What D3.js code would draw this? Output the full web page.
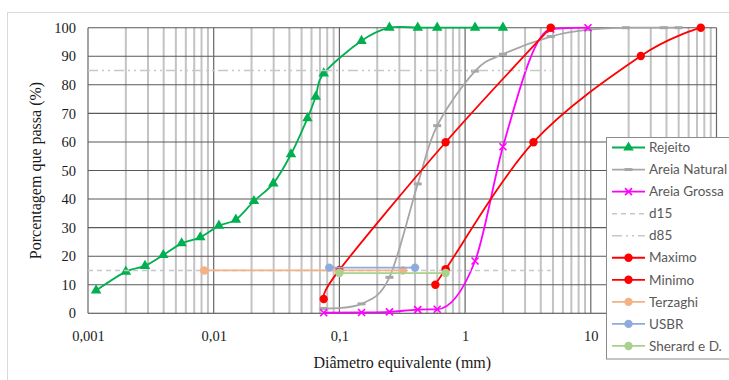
<!DOCTYPE html>
<html>
<head>
<meta charset="utf-8">
<script src="https://cdn.jsdelivr.net/npm/d3@7"></script>
<style>
body { margin: 0; background: #fff; }
svg { display: block; }
.serif { font-family: "Liberation Serif", "Times New Roman", serif; }
</style>
</head>
<body>
<div id="chart"></div>
<script>
// diameters (mm) and % passing
var rejeitoX = [0.00116, 0.0020, 0.00284, 0.00397, 0.00556, 0.00782, 0.0110, 0.0150, 0.0209, 0.0298, 0.0412, 0.0557, 0.0648, 0.075, 0.15, 0.25, 0.42, 0.6, 1.2, 2.0];
var rejeitoY = [8, 14.6, 16.6, 20.4, 24.5, 26.6, 30.7, 32.8, 39.3, 45.5, 55.7, 68.3, 75.8, 84, 95.4, 100, 100, 100, 100, 100];

var naturalX = [0.075, 0.15, 0.25, 0.42, 0.6, 1.2, 2.0, 4.8, 9.5, 19, 38, 50];
var naturalY = [1.7, 3.3, 12.6, 45.3, 65.7, 84.8, 90.7, 96.9, 99.3, 100, 100, 100];

var grossaX = [0.075, 0.15, 0.25, 0.42, 0.6, 1.2, 2.0, 4.8, 9.5];
var grossaY = [0.2, 0.3, 0.5, 1.3, 1.4, 18.3, 58.3, 99.5, 100];

var maximoX = [0.075, 0.1, 0.7, 4.8];
var maximoY = [5, 15.2, 59.9, 100];

var minimoX = [0.58, 0.7, 3.5, 25, 75];
var minimoY = [10, 15.4, 59.9, 90.1, 100];

var d15X = [0.001, 4.8], d15Y = [15, 15];
var d85X = [0.001, 4.8], d85Y = [85, 85];

var terzaghiX = [0.0084, 0.32], terzaghiY = [15, 15];
var usbrX = [0.083, 0.4], usbrY = [16, 16];
var sherardX = [0.1, 0.7], sherardY = [14.1, 14.1];

var seriesNames = ["Rejeito", "Areia Natural", "Areia Grossa", "d15", "d85", "Maximo", "Minimo", "Terzaghi", "USBR", "Sherard e D."];
var xTicks = [0.001, 0.01, 0.1, 1, 10, 100];
var xLabels = [0.001, 0.01, 0.1, 1, 10];   // 100 sits under the legend
var yTicks = [0, 10, 20, 30, 40, 50, 60, 70, 80, 90, 100];

function zip(xs, ys) { return xs.map(function(v, i) { return [v, ys[i]]; }); }

var series = [
  {name: seriesNames[0], pts: zip(rejeitoX, rejeitoY), color: "#00b050", curve: d3.curveCardinal.tension(0), marker: "tri"},
  {name: seriesNames[1], pts: zip(naturalX, naturalY), color: "#a6a6a6", curve: d3.curveCardinal.tension(0), marker: "dash"},
  {name: seriesNames[2], pts: zip(grossaX, grossaY), color: "#ff00ff", curve: d3.curveMonotoneX, marker: "x"},
  {name: seriesNames[3], pts: zip(d15X, d15Y), color: "#c8c8c8", dash: "5,4", marker: null},
  {name: seriesNames[4], pts: zip(d85X, d85Y), color: "#c8c8c8", dash: "10,4,2,4,2,4", marker: null},
  {name: seriesNames[5], pts: zip(maximoX, maximoY), color: "#ff0000", curve: d3.curveCardinal.tension(0), marker: "dot"},
  {name: seriesNames[6], pts: zip(minimoX, minimoY), color: "#ff0000", curve: d3.curveCardinal.tension(0), marker: "dot"},
  {name: seriesNames[7], pts: zip(terzaghiX, terzaghiY), color: "#f4b183", marker: "dot"},
  {name: seriesNames[8], pts: zip(usbrX, usbrY), color: "#8faadc", marker: "dot"},
  {name: seriesNames[9], pts: zip(sherardX, sherardY), color: "#a9d18e", marker: "dot"}
];

var margin = {top: 27.7, left: 88},
width = 628.5,
height = 285.6;

var svg = d3.select("#chart").append("svg")
.attr("width", 729)
.attr("height", 380);

// outer chart border
svg.append("rect")
.attr("x", 7.5).attr("y", 12.5)
.attr("width", 760).attr("height", 400)
.attr("fill", "none").attr("stroke", "#d9d9d9");

var g = svg.append("g")
.attr("transform", "translate(" + margin.left + "," + margin.top + ")");

var x = d3.scaleLog().domain([0.001, 100]).range([0, width]);
var y = d3.scaleLinear().domain([0, 100]).range([height, 0]);

// minor vertical grid
var minor = [];
xTicks.slice(0, -1).forEach(function(d) {
  for (var m = 2; m <= 9; m++) minor.push(d * m);
});
g.selectAll(".minor").data(minor).enter().append("line")
.attr("x1", function(d) { return x(d); }).attr("x2", function(d) { return x(d); })
.attr("y1", 0).attr("y2", height)
.attr("stroke", "#c3c3c3").attr("stroke-width", 2);

// horizontal grid
g.selectAll(".hgrid").data(yTicks).enter().append("line")
.attr("x1", 0).attr("x2", width)
.attr("y1", function(d) { return y(d); }).attr("y2", function(d) { return y(d); })
.attr("stroke", function(d) { return d == 0 ? "#404040" : "#595959"; })
.attr("stroke-width", 1.1);

// decade lines
g.selectAll(".major").data(xTicks).enter().append("line")
.attr("x1", function(d) { return x(d); }).attr("x2", function(d) { return x(d); })
.attr("y1", 0).attr("y2", height)
.attr("stroke", "#666").attr("stroke-width", 1.2);

// axes (labels only)
var xAxis = d3.axisBottom(x).tickValues(xLabels).tickSize(0).tickPadding(17)
.tickFormat(function(d) { return String(d).replace(".", ","); });
var yAxis = d3.axisLeft(y).tickValues(yTicks).tickSize(0).tickPadding(12);

g.append("g").attr("transform", "translate(0," + height + ")").call(xAxis);
g.append("g").call(yAxis);
g.selectAll(".domain").remove();
g.selectAll(".tick text")
.attr("class", "serif")
.attr("font-family", null)
.style("font-family", "'Liberation Serif', 'Times New Roman', serif")
.style("font-size", "14.5px").attr("fill", "#1a1a1a");

// axis titles
svg.append("text")
.attr("x", margin.left + width / 2).attr("y", 368)
.attr("text-anchor", "middle")
.style("font-family", "'Liberation Serif', 'Times New Roman', serif")
.style("font-size", "16px").attr("fill", "#1a1a1a")
.text("Diâmetro equivalente (mm)");
svg.append("text")
.attr("transform", "translate(41," + (margin.top + height / 2) + ") rotate(-90)")
.attr("text-anchor", "middle")
.style("font-family", "'Liberation Serif', 'Times New Roman', serif")
.style("font-size", "16px").attr("fill", "#1a1a1a")
.text("Porcentagem que passa (%)");

function drawMarker(sel, type, color) {
  if (type == "tri") {
    sel.append("path").attr("d", d3.symbol().type(d3.symbolTriangle).size(48)())
    .attr("fill", color);
  } else if (type == "dash") {
    sel.append("rect").attr("x", -4).attr("y", -1.5).attr("width", 8).attr("height", 3)
    .attr("fill", color);
  } else if (type == "x") {
    sel.append("path").attr("d", "M-3.5,-3.5L3.5,3.5M-3.5,3.5L3.5,-3.5")
    .attr("stroke", color).attr("stroke-width", 1.6).attr("fill", "none");
  } else if (type == "dot") {
    sel.append("circle").attr("r", 4.2).attr("fill", color);
  }
}

series.forEach(function(s) {
  var line = d3.line()
  .x(function(d) { return x(d[0]); })
  .y(function(d) { return y(d[1]); })
  .curve(s.curve || d3.curveLinear);

  g.append("path")
  .datum(s.pts)
  .attr("d", line)
  .attr("fill", "none")
  .attr("stroke", s.color)
  .attr("stroke-width", s.dash ? 1.5 : 1.8)
  .attr("stroke-dasharray", s.dash || null);

  if (s.marker) {
    g.selectAll(null).data(s.pts).enter().append("g")
    .attr("transform", function(d) { return "translate(" + x(d[0]) + "," + y(d[1]) + ")"; })
    .each(function() { drawMarker(d3.select(this), s.marker, s.color); });
  }
});

// legend
var leg = svg.append("g");
leg.append("rect")
.attr("x", 606.5).attr("y", 137.5)
.attr("width", 140).attr("height", 221.5)
.attr("fill", "#fff").attr("stroke", "#8c8c8c");

var item = leg.selectAll(".item").data(series).enter().append("g")
.attr("transform", function(d, i) { return "translate(0," + (147.5 + i * 22.05) + ")"; });

item.append("line")
.attr("x1", 612).attr("x2", 645)
.attr("stroke", function(d) { return d.color; })
.attr("stroke-width", function(d) { return d.dash ? 1.5 : 1.8; })
.attr("stroke-dasharray", function(d) { return d.dash || null; });

item.each(function(d) {
  if (!d.marker) return;
  var m = d3.select(this).append("g").attr("transform", "translate(628.5,0)");
  drawMarker(m, d.marker, d.color);
});

item.append("text")
.attr("x", 649).attr("y", 0).attr("dy", "0.35em")
.style("font-family", "Lato, sans-serif").style("font-size", "13.5px").attr("fill", "#595959")
.text(function(d) { return d.name; });
</script>
</body>
</html>
